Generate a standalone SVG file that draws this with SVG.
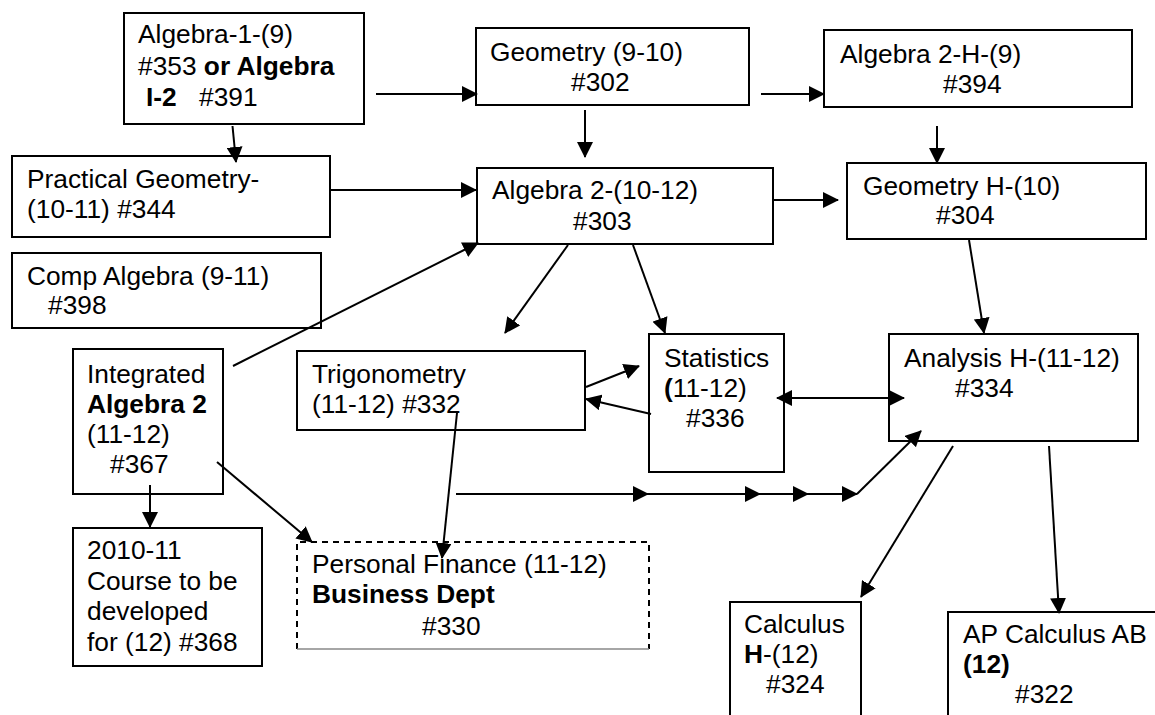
<svg xmlns="http://www.w3.org/2000/svg" width="1155" height="715" viewBox="0 0 1155 715">
<style>
.box{fill:#fff;stroke:#000;stroke-width:2}
.open{fill:none;stroke:#000;stroke-width:2}
.dash{fill:none;stroke:#000;stroke-width:2;stroke-dasharray:6 5}
text{font-family:"Liberation Sans",Arial,sans-serif;font-size:26.3px;fill:#000}
.b{font-weight:bold}
.c line{stroke:#000;stroke-width:2;fill:none;marker-end:url(#ah)}
</style>
<defs>
<marker id="ah" markerUnits="userSpaceOnUse" markerWidth="16" markerHeight="16" refX="15" refY="8" orient="auto-start-reverse" viewBox="0 0 16 16">
<path d="M0,0 L16,8 L0,16 z" fill="#000"/>
</marker>
</defs>
<rect width="1155" height="715" fill="#fff"/>

<g id="n-alg1">
<rect class="box" x="124" y="13" width="240" height="111"/>
<text x="138" y="43">Algebra-1-(9)</text>
<text x="138" y="75">#353 <tspan class="b">or Algebra</tspan></text>
<text x="146" y="106"><tspan class="b">I-2</tspan></text>
<text x="199" y="106">#391</text>
</g>

<g id="n-geo">
<rect class="box" x="476" y="28" width="273" height="77"/>
<text x="490" y="61">Geometry (9-10)</text>
<text x="571" y="91">#302</text>
</g>

<g id="n-alg2h">
<rect class="box" x="824" y="30" width="308" height="77"/>
<text x="840" y="63">Algebra 2-H-(9)</text>
<text x="943" y="93">#394</text>
</g>

<g id="n-pgeo">
<rect class="box" x="12" y="156" width="318" height="81"/>
<text x="27" y="188">Practical Geometry-</text>
<text x="27" y="218">(10-11) #344</text>
</g>

<g id="n-alg2">
<rect class="box" x="477" y="168" width="296" height="76"/>
<text x="492" y="199">Algebra 2-(10-12)</text>
<text x="573" y="230">#303</text>
</g>

<g id="n-geoh">
<rect class="box" x="847" y="163" width="299" height="76"/>
<text x="863" y="195">Geometry H-(10)</text>
<text x="936" y="224">#304</text>
</g>

<g id="n-comp">
<rect class="box" x="12" y="253" width="309" height="75"/>
<text x="27" y="285">Comp Algebra (9-11)</text>
<text x="48" y="314">#398</text>
</g>

<g id="n-int">
<rect class="box" x="73" y="349" width="150" height="145"/>
<text x="87" y="383">Integrated</text>
<text x="87" y="413" class="b">Algebra 2</text>
<text x="87" y="443">(11-12)</text>
<text x="110" y="473">#367</text>
</g>

<g id="n-trig">
<rect class="box" x="297" y="351" width="288" height="79"/>
<text x="312" y="383">Trigonometry</text>
<text x="312" y="413">(11-12) #332</text>
</g>

<g id="n-stat">
<rect class="box" x="649" y="334" width="135" height="138"/>
<text x="664" y="367">Statistics</text>
<text x="664" y="397"><tspan class="b">(</tspan>11-12)</text>
<text x="686" y="427">#336</text>
</g>

<g id="n-anal">
<rect class="box" x="889" y="334" width="249" height="107"/>
<text x="904" y="367">Analysis H-(11-12)</text>
<text x="955" y="397">#334</text>
</g>

<g id="n-368">
<rect class="box" x="73" y="528" width="189" height="138"/>
<text x="87" y="559">2010-11</text>
<text x="87" y="590">Course to be</text>
<text x="87" y="620">developed</text>
<text x="87" y="651">for (12) #368</text>
</g>

<g id="n-pf">
<path class="dash" d="M297,649 V542 H649 V649"/>
<path d="M297,649 H649" fill="none" stroke="#888" stroke-width="1.5"/>
<text x="312" y="573">Personal Finance (11-12)</text>
<text x="312" y="603" class="b">Business Dept</text>
<text x="422" y="635">#330</text>
</g>

<g id="n-calch">
<path class="open" d="M730,716 V602 H861 V716"/>
<text x="744" y="633">Calculus</text>
<text x="744" y="663"><tspan class="b">H</tspan>-(12)</text>
<text x="766" y="693">#324</text>
</g>

<g id="n-ap">
<path class="open" d="M948,716 V612 H1156"/>
<text x="963" y="643">AP Calculus AB</text>
<text x="963" y="673" class="b">(12)</text>
<text x="1015" y="703">#322</text>
</g>

<g id="connectors" class="c">
<line x1="376" y1="94" x2="477" y2="94"/>
<line x1="232.5" y1="126" x2="236" y2="162"/>
<line x1="330" y1="190" x2="476" y2="190"/>
<line x1="585" y1="110" x2="585" y2="157"/>
<line x1="761" y1="94" x2="824" y2="94"/>
<line x1="937" y1="126" x2="937" y2="163"/>
<line x1="774" y1="200" x2="838" y2="200"/>
<line x1="233" y1="366" x2="478" y2="243"/>
<line x1="568" y1="245" x2="505" y2="333"/>
<line x1="633" y1="245" x2="665" y2="333"/>
<line x1="969" y1="240" x2="984" y2="333"/>
<line x1="586" y1="387" x2="639" y2="366"/>
<line x1="651" y1="414" x2="586" y2="399"/>
<line x1="777" y1="398" x2="904" y2="398" style="marker-start:url(#ah)"/>
<line x1="457" y1="413" x2="442" y2="558"/>
<line x1="217" y1="462" x2="312" y2="542"/>
<line x1="150" y1="485" x2="150" y2="527"/>
<line x1="456" y1="494" x2="648" y2="494"/>
<line x1="648" y1="494" x2="760" y2="494"/>
<line x1="760" y1="494" x2="808" y2="494"/>
<line x1="808" y1="494" x2="857" y2="494"/>
<line x1="857" y1="494" x2="921" y2="431"/>
<line x1="953" y1="446" x2="861" y2="597"/>
<line x1="1049" y1="446" x2="1059" y2="613"/>
</g>
</svg>
